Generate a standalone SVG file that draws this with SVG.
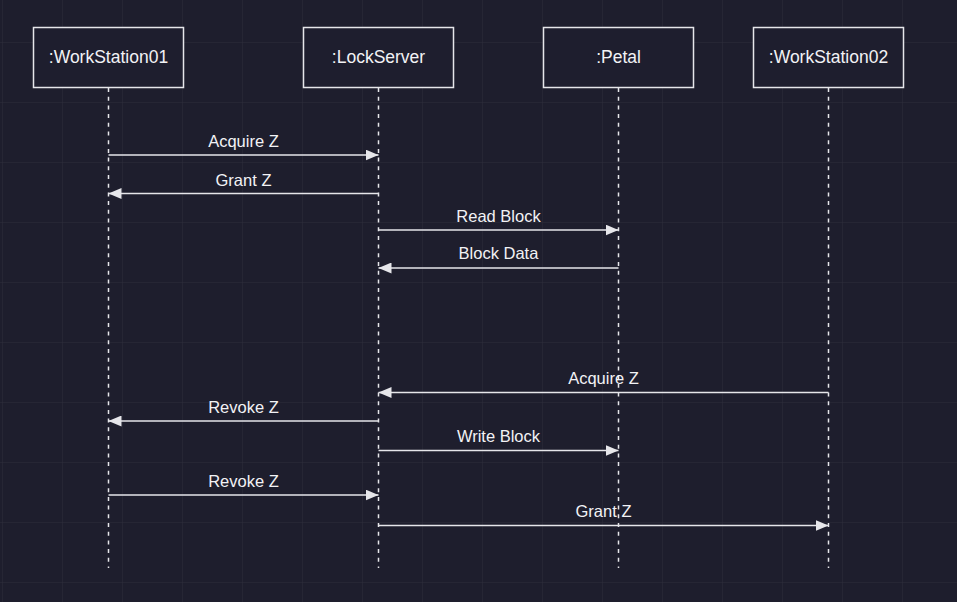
<svg xmlns="http://www.w3.org/2000/svg" width="957" height="602" viewBox="0 0 957 602">
<defs>
<pattern id="grid" x="2" y="42" width="60" height="60" patternUnits="userSpaceOnUse">
<path d="M0 0H60M0 0V60" fill="none" stroke="#2d2d3b" stroke-width="1"/>
</pattern>
<marker id="ah" viewBox="0 0 13 11" refX="13" refY="5.5" markerWidth="13" markerHeight="11" markerUnits="userSpaceOnUse" orient="auto">
<path d="M0 0L13 5.5L0 11Z" fill="#e6e6ea"/>
</marker>
<style>
.box{fill:#1e1e2e;stroke:#e6e6ea;stroke-width:1.5}
.hd{font-family:"Liberation Sans",Arial,sans-serif;font-size:17.5px;fill:#f2f2f5;text-anchor:middle}
.life{stroke:#e6e6ea;stroke-width:1.5;stroke-dasharray:4 4.7;fill:none}
.msg{stroke:#e6e6ea;stroke-width:1.5;fill:none;marker-end:url(#ah)}
.lb{font-family:"Liberation Sans",Arial,sans-serif;font-size:16.5px;fill:#f2f2f5;text-anchor:middle}
</style>
</defs>
<rect width="957" height="602" fill="#1e1e2d"/>
<rect width="957" height="602" fill="url(#grid)"/>
<g id="lifelines">
<line class="life" x1="108.5" y1="88" x2="108.5" y2="568"/>
<line class="life" x1="378.5" y1="88" x2="378.5" y2="568"/>
<line class="life" x1="618.5" y1="88" x2="618.5" y2="568"/>
<line class="life" x1="828.5" y1="88" x2="828.5" y2="568"/>
</g>
<g id="ws01"><rect class="box" x="33.5" y="27.5" width="150" height="60"/><text class="hd" x="108.5" y="62.5">:WorkStation01</text></g>
<g id="lockserver"><rect class="box" x="303.5" y="27.5" width="150" height="60"/><text class="hd" x="378.5" y="62.5">:LockServer</text></g>
<g id="petal"><rect class="box" x="543.5" y="27.5" width="150" height="60"/><text class="hd" x="618.5" y="62.5">:Petal</text></g>
<g id="ws02"><rect class="box" x="753.5" y="27.5" width="150" height="60"/><text class="hd" x="828.5" y="62.5">:WorkStation02</text></g>
<g id="connectors">
<line class="msg" x1="108.5" y1="155" x2="378.5" y2="155"/>
<line class="msg" x1="378.5" y1="193.5" x2="108.5" y2="193.5"/>
<line class="msg" x1="378.5" y1="230" x2="618.5" y2="230"/>
<line class="msg" x1="618.5" y1="268" x2="378.5" y2="268"/>
<line class="msg" x1="828.5" y1="392.5" x2="378.5" y2="392.5"/>
<line class="msg" x1="378.5" y1="421" x2="108.5" y2="421"/>
<line class="msg" x1="378.5" y1="450.5" x2="618.5" y2="450.5"/>
<line class="msg" x1="108.5" y1="495" x2="378.5" y2="495"/>
<line class="msg" x1="378.5" y1="525.5" x2="828.5" y2="525.5"/>
</g>
<g id="labels">
<text class="lb" x="243.5" y="147">Acquire Z</text>
<text class="lb" x="243.5" y="186">Grant Z</text>
<text class="lb" x="498.5" y="221.5">Read Block</text>
<text class="lb" x="498.5" y="259">Block Data</text>
<text class="lb" x="603.5" y="384">Acquire Z</text>
<text class="lb" x="243.5" y="412.5">Revoke Z</text>
<text class="lb" x="498.5" y="441.5">Write Block</text>
<text class="lb" x="243.5" y="486.5">Revoke Z</text>
<text class="lb" x="603.5" y="517">Grant Z</text>
</g>
</svg>
